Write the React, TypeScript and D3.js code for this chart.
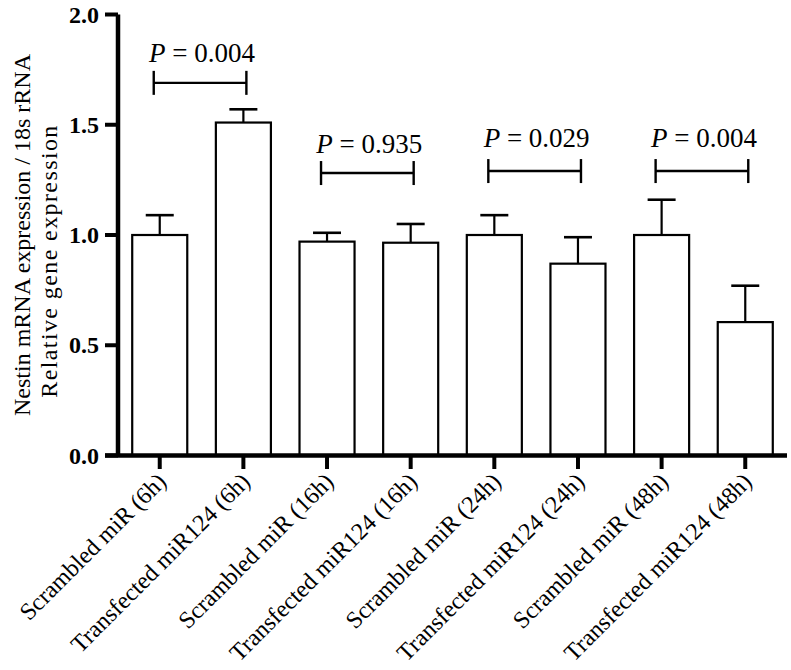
import React from "react";
import * as d3 from "d3";

const categories = [
  "Scrambled miR (6h)",
  "Transfected miR124 (6h)",
  "Scrambled miR (16h)",
  "Transfected miR124 (16h)",
  "Scrambled miR (24h)",
  "Transfected miR124 (24h)",
  "Scrambled miR (48h)",
  "Transfected miR124 (48h)",
];
const means = [1.0, 1.51, 0.97, 0.965, 1.0, 0.87, 1.0, 0.605];
const errors = [0.09, 0.06, 0.04, 0.085, 0.09, 0.12, 0.16, 0.165];
const yTicks = [0, 0.5, 1.0, 1.5, 2.0];

const comparisonPairs = [
  [0, 1],
  [2, 3],
  [4, 5],
  [6, 7],
];
const pValues = ["0.004", "0.935", "0.029", "0.004"];
const bracketLevels = [1.69, 1.281, 1.29, 1.29];
const pLabelLevels = [1.785, 1.372, 1.4, 1.4];

const W = 791;
const H = 670;
const FONT = '"Liberation Serif", "Tinos", serif';
const fs = (size: number, extra: React.CSSProperties = {}): React.CSSProperties => ({
  fontFamily: FONT,
  fontSize: size,
  ...extra,
});

export default function App() {
  const x = d3
    .scaleBand<string>()
    .domain(categories)
    .range([118, 787])
    .paddingInner(0.342)
    .paddingOuter(0.17);
  const y = d3.scaleLinear().domain([0, 2]).range([455.5, 14.5]);
  const bw = x.bandwidth();
  const cx = (i: number) => (x(categories[i]) as number) + bw / 2;
  const capHalf = 14;
  const axisX = 118;
  const axisY = y(0);

  return (
    <svg
      width={W}
      height={H}
      style={{ position: "absolute", left: 0, top: 0, background: "#fff" }}
    >
      <rect x={0} y={0} width={W} height={H} fill="#fff" />

      {/* bars */}
      {categories.map((c, i) => (
        <g key={c}>
          <line
            x1={cx(i)}
            x2={cx(i)}
            y1={y(means[i])}
            y2={y(means[i] + errors[i])}
            stroke="#000"
            strokeWidth={2.2}
          />
          <line
            x1={cx(i) - capHalf}
            x2={cx(i) + capHalf}
            y1={y(means[i] + errors[i])}
            y2={y(means[i] + errors[i])}
            stroke="#000"
            strokeWidth={2.6}
          />
          <rect
            x={x(c)}
            y={y(means[i])}
            width={bw}
            height={axisY - y(means[i])}
            fill="#fff"
            stroke="#000"
            strokeWidth={2.2}
          />
        </g>
      ))}

      {/* y axis */}
      <line x1={axisX} x2={axisX} y1={y(2)} y2={axisY} stroke="#000" strokeWidth={4.5} />
      {yTicks.map((t) => (
        <g key={t}>
          <line x1={105} x2={axisX} y1={y(t)} y2={y(t)} stroke="#000" strokeWidth={4} />
          <text
            x={99}
            y={y(t)}
            dy="0.34em"
            textAnchor="end"
            style={fs(24, { fontWeight: "bold" })}
          >
            {d3.format(".1f")(t)}
          </text>
        </g>
      ))}

      {/* x axis */}
      <line x1={105} x2={787} y1={axisY} y2={axisY} stroke="#000" strokeWidth={4.5} />
      {categories.map((c, i) => (
        <g key={"t" + c}>
          <line x1={cx(i)} x2={cx(i)} y1={axisY} y2={469} stroke="#000" strokeWidth={4} />
          <text
            transform={`translate(${cx(i) + 8},${483}) rotate(-45)`}
            textAnchor="end"
            style={fs(24)}
          >
            {c}
          </text>
        </g>
      ))}

      {/* significance brackets */}
      {comparisonPairs.map(([a, b], k) => {
        const x1 = cx(a) - 6;
        const x2 = cx(b) + 3;
        const yy = y(bracketLevels[k]);
        return (
          <g key={"b" + k}>
            <line x1={x1} x2={x2} y1={yy} y2={yy} stroke="#000" strokeWidth={2.4} />
            <line x1={x1} x2={x1} y1={yy - 12} y2={yy + 12} stroke="#000" strokeWidth={2.4} />
            <line x1={x2} x2={x2} y1={yy - 12} y2={yy + 12} stroke="#000" strokeWidth={2.4} />
            <text
              x={(x1 + x2) / 2 + 2}
              y={y(pLabelLevels[k])}
              textAnchor="middle"
              style={fs(27)}
            >
              <tspan style={{ fontStyle: "italic" }}>P</tspan>
              {" = " + pValues[k]}
            </text>
          </g>
        );
      })}

      {/* y axis title */}
      <text
        transform={`translate(30,235) rotate(-90)`}
        textAnchor="middle"
        style={fs(24)}
      >
        Nestin mRNA expression / 18s rRNA
      </text>
      <text
        transform={`translate(57,261) rotate(-90)`}
        textAnchor="middle"
        style={fs(24, { letterSpacing: 1.4 })}
      >
        Relative gene expression
      </text>
    </svg>
  );
}
